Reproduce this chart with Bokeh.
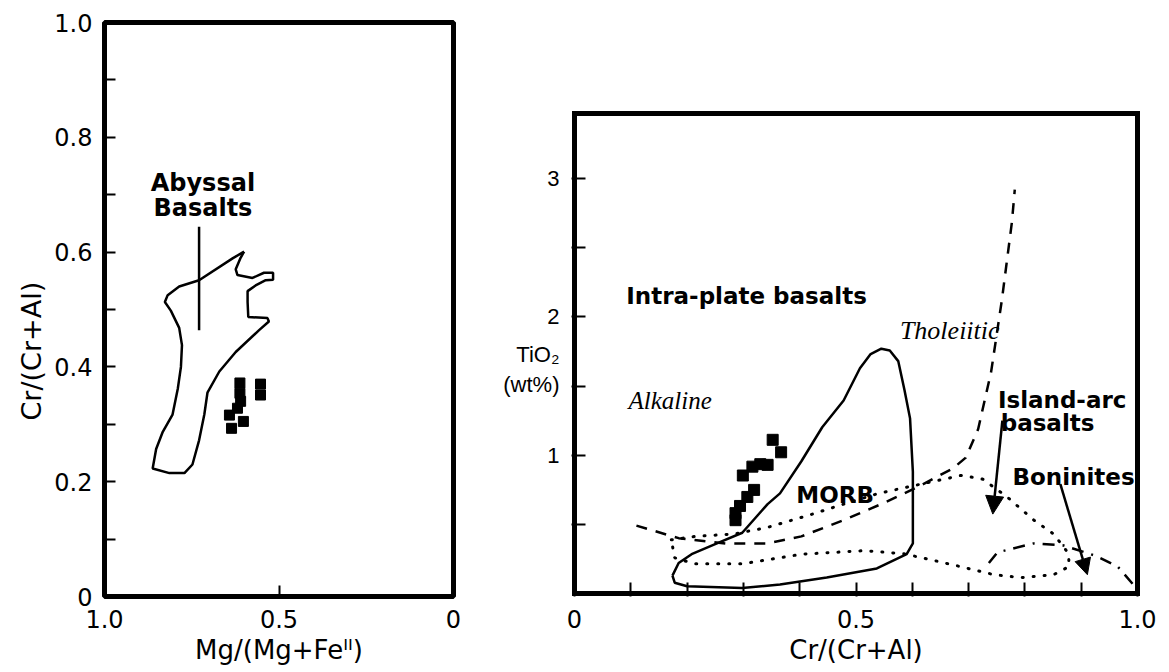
from bokeh.plotting import figure
from bokeh.layouts import row
from bokeh.models import Range1d, FixedTicker, Label, Arrow, NormalHead, Title
from bokeh.embed import file_html
from bokeh.resources import INLINE

FONT = "DejaVu Sans"
SANS = "Liberation Sans"
SERIF = "Liberation Serif"

# ---------------- Left panel data: Cr# vs Mg# ----------------
abyssal_mg = [0.600, 0.610, 0.624, 0.619, 0.576, 0.543, 0.517, 0.517, 0.538, 0.567,
              0.590, 0.590, 0.588, 0.533, 0.529, 0.557, 0.624, 0.671, 0.705, 0.714,
              0.729, 0.748, 0.771, 0.814, 0.862, 0.852, 0.833, 0.805, 0.790, 0.781,
              0.778, 0.786, 0.810, 0.827, 0.819, 0.786, 0.729, 0.633, 0.600]
abyssal_cr = [0.601, 0.590, 0.570, 0.560, 0.555, 0.564, 0.564, 0.552, 0.551, 0.542,
              0.532, 0.513, 0.487, 0.485, 0.479, 0.464, 0.426, 0.392, 0.355, 0.317,
              0.272, 0.230, 0.215, 0.215, 0.223, 0.257, 0.287, 0.317, 0.362, 0.400,
              0.438, 0.468, 0.498, 0.513, 0.525, 0.540, 0.551, 0.589, 0.601]
leader_mg = [0.729, 0.729]
leader_cr = [0.644, 0.464]
sample_mg = [0.612, 0.612, 0.553, 0.553, 0.642, 0.636, 0.602, 0.619, 0.610]
sample_cr = [0.372, 0.354, 0.370, 0.351, 0.316, 0.293, 0.305, 0.328, 0.340]

left_y_ticks = [0, 0.2, 0.4, 0.6, 0.8, 1.0]
left_y_labels = ["0", "0.2", "0.4", "0.6", "0.8", "1.0"]
left_y_minor = [0.1, 0.3, 0.5, 0.7, 0.9]
left_x_ticks = [1.0, 0.5, 0.0]
left_x_labels = ["1.0", "0.5", "0"]

# ---------------- Right panel data: TiO2 vs Cr# ----------------
morb_cr = [0.174, 0.178, 0.200, 0.298, 0.365, 0.448, 0.537, 0.590, 0.601, 0.601,
           0.596, 0.586, 0.575, 0.560, 0.545, 0.526, 0.507, 0.478, 0.440, 0.403,
           0.365, 0.343, 0.298, 0.253, 0.208, 0.185, 0.174]
morb_ti = [0.129, 0.078, 0.052, 0.039, 0.065, 0.116, 0.181, 0.284, 0.362, 0.879,
           1.266, 1.473, 1.680, 1.757, 1.770, 1.731, 1.628, 1.395, 1.202, 0.956,
           0.724, 0.646, 0.439, 0.362, 0.284, 0.220, 0.129]

boundary_cr = [0.110, 0.185, 0.268, 0.343, 0.403, 0.478, 0.552, 0.612, 0.672, 0.695,
               0.717, 0.740, 0.759, 0.777, 0.782]
boundary_ti = [0.491, 0.400, 0.362, 0.362, 0.413, 0.530, 0.659, 0.775, 0.904, 0.982,
               1.189, 1.602, 2.119, 2.687, 2.920]

arc_cr = [0.172, 0.215, 0.283, 0.343, 0.418, 0.478, 0.537, 0.597, 0.642, 0.687,
          0.725, 0.769, 0.816, 0.851, 0.878, 0.878, 0.851, 0.793, 0.745, 0.686,
          0.633, 0.585, 0.515, 0.403, 0.298, 0.213, 0.178, 0.172]
arc_ti = [0.388, 0.413, 0.430, 0.478, 0.568, 0.646, 0.720, 0.775, 0.814, 0.854,
          0.827, 0.696, 0.530, 0.430, 0.287, 0.194, 0.136, 0.115, 0.136, 0.194,
          0.244, 0.287, 0.310, 0.284, 0.215, 0.215, 0.258, 0.388]

bon_cr = [0.736, 0.751, 0.815, 0.867, 0.927, 0.965, 0.995]
bon_ti = [0.220, 0.297, 0.362, 0.349, 0.271, 0.194, 0.052]

spinel_cr = [0.352, 0.367, 0.316, 0.343, 0.299, 0.319, 0.307, 0.294, 0.286, 0.286, 0.330]
spinel_ti = [1.111, 1.021, 0.917, 0.930, 0.853, 0.749, 0.698, 0.633, 0.581, 0.530, 0.935]

right_x_ticks = [0.0, 0.5, 1.0]
right_x_labels = ["0", "0.5", "1.0"]
right_x_minor = [0.1, 0.2, 0.3, 0.4, 0.6, 0.7, 0.8, 0.9]
right_y_ticks = [1, 2, 3]
right_y_labels = ["1", "2", "3"]
right_y_minor = [0.5, 1.0, 1.5, 2.0, 2.5, 3.0]
right_y_title = "TiO\u2082\n(wt%)"
right_y_title_at = 1.62
right_x_max = 1.0
right_y_max = 3.47

arrow_arc = (0.760, 1.25, 0.743, 0.574)
arrow_bon = (0.863, 0.79, 0.911, 0.136)

# ---------------- layout geometry (pixels) ----------------
TOP, BOTTOM = 22, 76            # shared frame borders of both figures
H = 672
FRAME_BOTTOM = H - BOTTOM       # 596
R_BOX_TOP, R_BOX_BOTTOM = 113, 593
R_BOX_LEFT, R_BOX_RIGHT = 573, 1137   # absolute
R_FIG_X0 = 500
PAD = 3


def style(p, tick_len=11):
    p.grid.visible = False
    p.background_fill_color = "white"
    p.border_fill_color = "white"
    for ax in p.xaxis + p.yaxis:
        ax.axis_line_color = None
        ax.major_tick_in = tick_len
        ax.major_tick_out = 0
        ax.minor_tick_in = tick_len
        ax.minor_tick_out = 0
        ax.major_tick_line_width = 2
        ax.minor_tick_line_width = 2
        ax.major_label_text_font = FONT
        ax.major_label_text_font_size = "24px"
        ax.major_label_text_color = "black"
        ax.axis_label_text_font = FONT
        ax.axis_label_text_font_style = "normal"
        ax.axis_label_text_font_size = "26px"
        ax.axis_label_text_color = "black"


# ---------------- Left figure ----------------
p1 = figure(width=500, height=H, output_backend="svg", toolbar_location=None,
            x_range=Range1d(1.0, 0.0), y_range=Range1d(0.0, 1.0),
            min_border_left=104, min_border_right=47, min_border_top=TOP,
            min_border_bottom=BOTTOM)
style(p1)
p1.outline_line_color = "black"
p1.outline_line_width = 5
p1.xaxis.ticker = FixedTicker(ticks=left_x_ticks)
p1.xaxis.major_label_overrides = dict(zip(left_x_ticks, left_x_labels))
p1.yaxis.ticker = FixedTicker(ticks=left_y_ticks, minor_ticks=left_y_minor)
p1.yaxis.major_label_overrides = dict(zip(left_y_ticks, left_y_labels))
p1.xaxis.axis_label = "Mg/(Mg+Fe\u1d35\u1d35)"
p1.xaxis.major_label_standoff = 13
p1.yaxis.major_label_standoff = 12
p1.xaxis.axis_label_standoff = 4
p1.add_layout(Title(text="Cr/(Cr+Al)", align="left", offset=176, standoff=10,
                    text_font=FONT, text_font_style="normal", text_font_size="27px",
                    text_color="black"), "left")

p1.line(abyssal_mg, abyssal_cr, line_color="black", line_width=2.5)
p1.line(leader_mg, leader_cr, line_color="black", line_width=2.5)
p1.scatter(sample_mg, sample_cr, marker="square", size=10, color="black")
for t, yy in (("Abyssal", 0.696), ("Basalts", 0.653)):
    p1.add_layout(Label(x=0.718, y=yy, text=t, text_align="center", text_color="black",
                        text_font=FONT, text_font_style="bold", text_font_size="24px"))

# ---------------- Right figure ----------------
kx = (R_BOX_RIGHT - R_BOX_LEFT) / right_x_max
ky = (R_BOX_BOTTOM - R_BOX_TOP) / right_y_max
frame_left = R_BOX_LEFT - PAD
frame_w = (R_BOX_RIGHT - R_BOX_LEFT) + 2 * PAD
x0 = -PAD / kx
x1 = right_x_max + PAD / kx
y0 = -(FRAME_BOTTOM - R_BOX_BOTTOM) / ky
y1 = (R_BOX_BOTTOM - TOP) / ky

p2 = figure(width=669, height=H, output_backend="svg", toolbar_location=None,
            x_range=Range1d(x0, x1), y_range=Range1d(y0, y1),
            min_border_left=frame_left - R_FIG_X0,
            min_border_right=669 - (frame_left - R_FIG_X0) - frame_w,
            min_border_top=TOP, min_border_bottom=BOTTOM)
style(p2, tick_len=14)
p2.outline_line_color = None
p2.xaxis.ticker = FixedTicker(ticks=right_x_ticks, minor_ticks=right_x_minor)
p2.xaxis.major_label_overrides = dict(zip(right_x_ticks, right_x_labels))
y_ticks_all = right_y_ticks + [right_y_title_at]
y_labels_all = right_y_labels + [right_y_title]
p2.yaxis.ticker = FixedTicker(ticks=y_ticks_all, minor_ticks=right_y_minor)
p2.yaxis.major_label_overrides = dict(zip(y_ticks_all, y_labels_all))
p2.yaxis.major_tick_line_color = None
p2.yaxis.major_label_text_font = SANS
p2.yaxis.major_label_text_font_size = "22px"
p2.yaxis.major_label_standoff = 12
p2.xaxis.axis_label = "Cr/(Cr+Al)"
p2.xaxis.major_label_standoff = 13
p2.xaxis.axis_label_standoff = 4

# panel box
p2.line([0, right_x_max, right_x_max, 0, 0], [0, 0, right_y_max, right_y_max, 0],
        line_color="black", line_width=5, line_join="miter", line_cap="square")

p2.line(morb_cr, morb_ti, line_color="black", line_width=2.5)
p2.line(boundary_cr, boundary_ti, line_color="black", line_width=2.5, line_dash="11 9")
p2.line(arc_cr, arc_ti, line_color="black", line_width=3, line_dash="1 10", line_cap="round")
p2.line(bon_cr, bon_ti, line_color="black", line_width=2.5, line_dash="12 8 2 8")
p2.scatter(spinel_cr, spinel_ti, marker="square", size=11, color="black")

for (xs, ys, xe, ye), sz in ((arrow_arc, 18), (arrow_bon, 16)):
    p2.add_layout(Arrow(end=NormalHead(size=sz, fill_color="black", line_color="black"),
                        x_start=xs, y_start=ys, x_end=xe, y_end=ye,
                        line_color="black", line_width=2.5))


def lab(p, x, y, t, font=FONT, style_="bold", size="23px", align="left"):
    p.add_layout(Label(x=x, y=y, text=t, text_align=align, text_baseline="alphabetic",
                       text_font=font, text_font_style=style_, text_font_size=size,
                       text_color="black"))


lab(p2, 0.092, 2.154, "Intra-plate basalts")
lab(p2, 0.578, 1.900, "Tholeiitic", font=SERIF, style_="italic", size="26px")
lab(p2, 0.096, 1.393, "Alkaline", font=SERIF, style_="italic", size="25px")
lab(p2, 0.394, 0.711, "MORB")
lab(p2, 0.752, 1.400, "Island-arc")
lab(p2, 0.757, 1.235, "basalts")
lab(p2, 0.778, 0.840, "Boninites")

layout = row(p1, p2)
open("out.html", "w").write(file_html(layout, INLINE))
